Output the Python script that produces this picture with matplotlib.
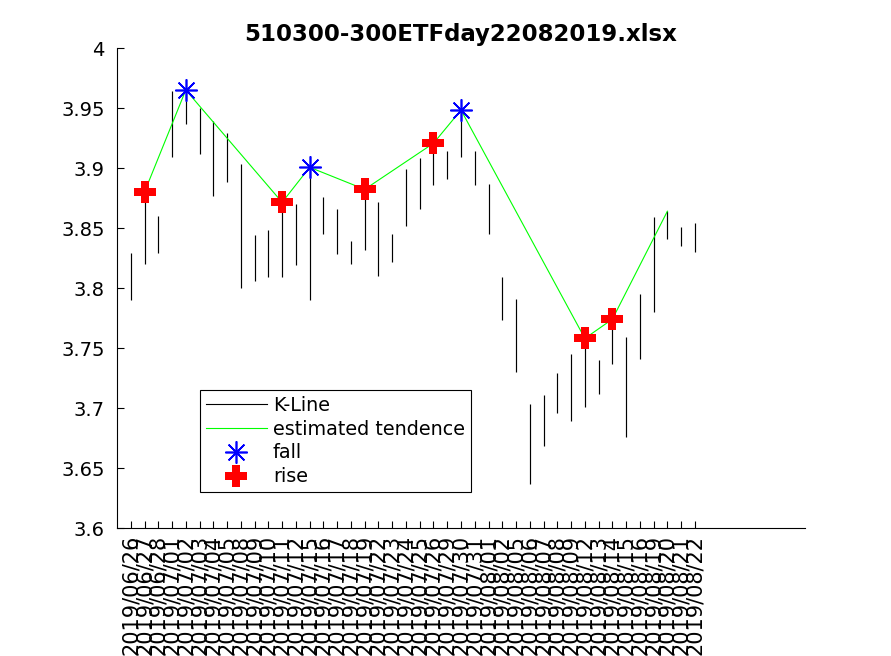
import matplotlib
matplotlib.use("Agg")
import matplotlib.pyplot as plt
from matplotlib.lines import Line2D

dates = ["2019/06/26", "2019/06/27", "2019/06/28", "2019/07/01", "2019/07/02",
         "2019/07/03", "2019/07/04", "2019/07/05", "2019/07/08", "2019/07/09",
         "2019/07/10", "2019/07/11", "2019/07/12", "2019/07/15", "2019/07/16",
         "2019/07/17", "2019/07/18", "2019/07/19", "2019/07/22", "2019/07/23",
         "2019/07/24", "2019/07/25", "2019/07/26", "2019/07/29", "2019/07/30",
         "2019/07/31", "2019/08/01", "2019/08/02", "2019/08/05", "2019/08/06",
         "2019/08/07", "2019/08/08", "2019/08/09", "2019/08/12", "2019/08/13",
         "2019/08/14", "2019/08/15", "2019/08/16", "2019/08/19", "2019/08/20",
         "2019/08/21", "2019/08/22"]

high = [3.829, 3.880, 3.860, 3.964, 3.965, 3.950, 3.939, 3.929, 3.903, 3.844,
        3.848, 3.871, 3.870, 3.901, 3.876, 3.866, 3.839, 3.882, 3.872, 3.845,
        3.899, 3.908, 3.921, 3.914, 3.948, 3.914, 3.887, 3.809, 3.791, 3.703,
        3.711, 3.729, 3.745, 3.758, 3.740, 3.774, 3.759, 3.795, 3.859, 3.864,
        3.851, 3.854]

low = [3.790, 3.820, 3.829, 3.909, 3.937, 3.912, 3.877, 3.888, 3.800, 3.806,
       3.809, 3.809, 3.819, 3.790, 3.845, 3.828, 3.820, 3.832, 3.810, 3.822,
       3.852, 3.866, 3.886, 3.891, 3.909, 3.886, 3.845, 3.773, 3.730, 3.637,
       3.668, 3.696, 3.689, 3.701, 3.712, 3.737, 3.676, 3.741, 3.780, 3.841,
       3.835, 3.830]

trend_idx = [2, 5, 12, 14, 18, 23, 25, 34, 36, 40]
trend_val = [3.880, 3.965, 3.8714, 3.9006, 3.8822, 3.9206, 3.9483, 3.758, 3.774, 3.864]

fall_idx = [5, 14, 25]
rise_idx = [2, 12, 18, 23, 34, 36]

yticks = [3.6, 3.65, 3.7, 3.75, 3.8, 3.85, 3.9, 3.95, 4.0]

plt.rcParams['font.family'] = ['DejaVu Sans']

fig = plt.figure(figsize=(8.91, 6.56), dpi=100)
ax = fig.add_axes([117/891, 1-528/656, 688/891, 480/656])

x = list(range(1, len(dates) + 1))
ax.vlines(x, low, high, colors='black', linewidth=0.85)

ax.plot(trend_idx, trend_val, color=(0, 1, 0), linewidth=0.8)

tv = dict(zip(trend_idx, trend_val))
ax.plot(fall_idx, [tv[i] for i in fall_idx], linestyle='none',
        marker=(8, 2, 0), markersize=16, markeredgewidth=1.2,
        color='blue')
ax.plot(rise_idx, [tv[i] for i in rise_idx], linestyle='none',
        marker='P', markersize=16, markeredgewidth=0,
        color='red')

ax.set_xlim(0, 50)
ax.set_ylim(3.6, 4.0)
ax.set_xticks(x)
ax.set_xticklabels(dates, rotation=90, fontsize=15, va='top', ha='center')
ax.set_yticks(yticks)
ax.set_yticklabels(['%g' % v for v in yticks], fontsize=14)

ax.tick_params(direction='in', length=5, width=0.8, top=False, right=False)
ax.tick_params(axis='y', pad=9)
ax.tick_params(axis='x', pad=5)
for s in ['top', 'right']:
    ax.spines[s].set_visible(False)
for s in ['left', 'bottom']:
    ax.spines[s].set_linewidth(0.8)

ax.set_title('510300-300ETFday22082019.xlsx', fontsize=16.5, fontweight='bold', pad=5)

handles = [
    Line2D([], [], color='black', linewidth=0.8),
    Line2D([], [], color=(0, 1, 0), linewidth=0.8),
    Line2D([], [], linestyle='none', marker=(8, 2, 0), markersize=16,
           markeredgewidth=1.2, color='blue'),
    Line2D([], [], linestyle='none', marker='P', markersize=16,
           markeredgewidth=0, color='red'),
]
labels = ['K-Line', 'estimated tendence', 'fall', 'rise']
leg = ax.legend(handles, labels, loc='lower left',
                bbox_to_anchor=((200-117)/688, (528-492)/480),
                fontsize=13.8, frameon=True, fancybox=False,
                edgecolor='black', framealpha=1, handlelength=3.2,
                handletextpad=0.3, labelspacing=0.25, borderpad=0.3,
                borderaxespad=0)
leg.get_frame().set_linewidth(0.8)

fig.savefig('out.png', dpi=100)
